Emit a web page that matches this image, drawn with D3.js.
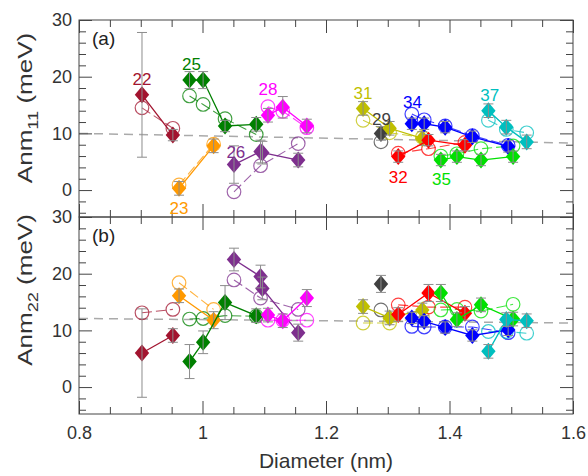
<!DOCTYPE html>
<html>
<head>
<meta charset="utf-8">
<script src="https://cdn.jsdelivr.net/npm/d3@7"></script>
<style>
    body { margin: 0; background: #fff; }
    svg { font-family: "Liberation Sans", Arial, sans-serif; }
    .axis text { fill: #333; font-size: 18px; }
    .axis line { stroke: #444; }
    .frame { fill: none; stroke: #444; stroke-width: 1; }
    .fit-line { stroke: #aaa; stroke-width: 1.5; stroke-dasharray: 9,6; fill: none; }
    .err { stroke: #8c8c8c; stroke-width: 1; }
</style>
</head>
<body>
<svg id="chart" width="588" height="476"></svg>
<script>
// Chirality families (2n+m) and the tube diameters (nm) inside each family.
const families = [22, 23, 25, 26, 28, 29, 31, 32, 34, 35, 37];
const diameters = [
    [0.902, 0.952],
    [0.962, 1.018],
    [0.979, 1.001, 1.0365, 1.087],
    [1.051, 1.094, 1.097, 1.155],
    [1.106, 1.130, 1.169],
    [1.289],
    [1.260, 1.303, 1.356],
    [1.317, 1.366, 1.425],
    [1.339, 1.359, 1.393, 1.437, 1.495],
    [1.386, 1.412, 1.451, 1.503],
    [1.463, 1.492, 1.525]
];

// Panel (a): Anm11, measured (diamonds), error, calculated (circles).
const anm11Exp = [
    [16.8, 9.7], [0.3, 7.8], [19.4, 19.4, 11.3, 11.6], [4.5, 6.8, 6.6, 5.3],
    [13.2, 14.6, 11.3], [10.0], [14.4, 10.9, 9.1], [5.9, 8.8, 7.9],
    [11.7, 11.7, 11.1, 9.4, 7.7], [5.3, 5.9, 5.3, 5.9], [14.0, 11.1, 8.5]
];
const anm11Err = [
    [11, 1.0], [1.2, 1.2], [1.5, 1.5, 1.0, 1.2], [3.3, 2.0, 2.0, 1.2],
    [1.2, 1.9, 1.2], [1.2], [1.2, 1.2, 1.2], [1.0, 1.0, 1.0],
    [1.0, 1.0, 1.0, 1.0, 1.0], [1.0, 1.0, 1.0, 1.0], [1.2, 1.2, 1.2]
];
const anm11Calc = [
    [14.5, 10.9], [0.9, 8.1], [16.6, 15.1, 12.6, 9.8], [-0.3, 4.3, null, 8.2],
    [14.7, 13.9, 11.0], [8.5], [12.3, 10.1, 9.3], [6.5, 7.3, 8.4],
    [13.4, 12.4, 11.3, 9.6, 7.9], [6.0, 6.4, 7.3, 7.8], [12.3, 10.7, 10.1]
];

// Panel (b): Anm22.
const anm22Exp = [
    [6.0, 9.1], [16.1, 11.8], [4.5, 7.9, 14.9, 12.6], [22.5, 19.5, 17.4, 9.6],
    [12.7, 11.7, 15.7], [18.2], [14.2, 12.2, 13.6], [12.8, 16.6, 13.0],
    [12.2, 11.6, 10.5, 9.1, 10.1], [16.6, 11.9, 14.5, 12.0], [6.3, 11.9, 11.7]
];
const anm22Err = [
    [7.8, 1.2], [1.2, 1.5], [3.0, 2.0, 3.0, 1.2], [2.0, 2.0, 2.0, 1.5],
    [1.2, 1.2, 1.5], [1.5], [1.2, 1.2, 1.2], [1.2, 1.5, 1.2],
    [1.0, 1.0, 1.0, 1.0, 1.0], [1.5, 1.2, 1.2, 1.2], [1.2, 1.2, 1.2]
];
const anm22Calc = [
    [13.1, 13.7], [18.4, 13.7], [12.0, 12.1, 12.6, 12.5], [18.9, 15.7, null, 13.7],
    [11.8, 11.8, 11.8], [13.6], [11.3, 11.3, 12.4], [14.5, 14.1, 14.1],
    [10.7, 10.6, 10.6, 10.6, 9.6], [13.6, 13.7, 13.4, 14.6], [9.8, 9.8, 9.5]
];

// Family number labels in panel (a), in data units.
const labelDiam = [0.902, 0.962, 0.982, 1.054, 1.106, 1.290, 1.260, 1.317, 1.340, 1.387, 1.465];
const labelAnm = [19.5, -3.2, 22.1, 6.7, 17.7, 12.5, 17.0, 2.3, 15.4, 1.8, 16.7];

// Linear fits (dashed), value at 0.8 nm and at 1.6 nm.
const fit11 = [10.0, 8.3];
const fit22 = [12.1, 11.3];

const xTicks = [0.8, 1, 1.2, 1.4, 1.6];
const yTicks = [0, 10, 20, 30];

const colors = ["#A2142F", "#FF9900", "#008000", "#7E2F8E", "#FF00FF", "#404040",
                "#BFBF00", "#FF0000", "#0000FF", "#00E000", "#00BFBF"];

const svg = d3.select("#chart");
const left = 79, right = 573;

const x = d3.scaleLinear().domain([0.8, 1.6]).range([left, right]);
const xMinor = d3.range(0.8, 1.6001, 0.05).filter(v => !xTicks.some(t => Math.abs(t - v) < 1e-6));
const yMinor = d3.range(-4, 30, 2).filter(v => v % 10 !== 0);

const panels = [
    { top: 20, bottom: 217, exp: anm11Exp, err: anm11Err, calc: anm11Calc, fit: fit11, tag: "(a)", sub: "11", labelY: 108, xLabels: false },
    { top: 217, bottom: 414, exp: anm22Exp, err: anm22Err, calc: anm22Calc, fit: fit22, tag: "(b)", sub: "22", labelY: 290, xLabels: true }
];

const diamond = "M0,-8.5L7.2,0L0,8.5L-7.2,0Z";

panels.forEach(p => {
    const y = d3.scaleLinear().domain([-4.75, 30]).range([p.bottom, p.top]);
    const g = svg.append("g");

    // Dashed linear fit.
    g.append("line")
        .attr("class", "fit-line")
        .attr("x1", x(0.8)).attr("x2", x(1.6))
        .attr("y1", y(p.fit[0])).attr("y2", y(p.fit[1]));

    const line = d3.line().x(d => x(d[0])).y(d => y(d[1]));

    // Calculated values: open circles, dashed connectors.
    families.forEach((f, i) => {
        const pts = diameters[i].map((d, j) => [d, p.calc[i][j]]).filter(d => d[1] !== null);
        g.append("path")
            .datum(pts)
            .attr("d", line)
            .attr("fill", "none")
            .attr("stroke", colors[i])
            .attr("stroke-opacity", 0.75)
            .attr("stroke-width", 1.1)
            .attr("stroke-dasharray", "10,4");
        g.selectAll(null)
            .data(pts)
            .join("circle")
            .attr("cx", d => x(d[0]))
            .attr("cy", d => y(d[1]))
            .attr("r", 6.8)
            .attr("fill", "none")
            .attr("stroke", colors[i])
            .attr("stroke-opacity", 0.75)
            .attr("stroke-width", 1.2);
    });

    // Measured values: filled diamonds with solid connectors and error bars.
    families.forEach((f, i) => {
        const pts = diameters[i].map((d, j) => [d, p.exp[i][j], p.err[i][j]]);
        g.append("path")
            .datum(pts)
            .attr("d", line)
            .attr("fill", "none")
            .attr("stroke", colors[i])
            .attr("stroke-width", 1.3);
        g.selectAll(null)
            .data(pts)
            .join("path")
            .attr("d", diamond)
            .attr("transform", d => `translate(${x(d[0])},${y(d[1])})`)
            .attr("fill", colors[i]);
        const eb = g.selectAll(null).data(pts).join("g").attr("class", "err");
        eb.append("line")
            .attr("x1", d => x(d[0])).attr("x2", d => x(d[0]))
            .attr("y1", d => y(d[1] - d[2])).attr("y2", d => y(d[1] + d[2]));
        eb.append("line")
            .attr("x1", d => x(d[0]) - 5).attr("x2", d => x(d[0]) + 5)
            .attr("y1", d => y(d[1] - d[2])).attr("y2", d => y(d[1] - d[2]));
        eb.append("line")
            .attr("x1", d => x(d[0]) - 5).attr("x2", d => x(d[0]) + 5)
            .attr("y1", d => y(d[1] + d[2])).attr("y2", d => y(d[1] + d[2]));
    });

    // Axes: major and minor ticks, pointing inward on all four sides.
    const addAxis = (axis, tx, ty) => {
        const a = svg.append("g").attr("class", "axis")
            .attr("transform", `translate(${tx},${ty})`)
            .call(axis);
        a.select(".domain").remove();
        return a;
    };
    addAxis(d3.axisBottom(x).tickValues(xTicks).tickSizeInner(-13).tickSizeOuter(0).tickPadding(12)
        .tickFormat(p.xLabels ? d3.format("") : () => ""), 0, p.bottom);
    addAxis(d3.axisBottom(x).tickValues(xMinor).tickSizeInner(-7).tickSizeOuter(0).tickFormat(""), 0, p.bottom);
    addAxis(d3.axisTop(x).tickValues(xTicks).tickSizeInner(-13).tickSizeOuter(0).tickFormat(""), 0, p.top);
    addAxis(d3.axisTop(x).tickValues(xMinor).tickSizeInner(-7).tickSizeOuter(0).tickFormat(""), 0, p.top);
    addAxis(d3.axisLeft(y).tickValues(yTicks).tickSizeInner(-13).tickSizeOuter(0).tickPadding(7), left, 0);
    addAxis(d3.axisLeft(y).tickValues(yMinor).tickSizeInner(-7).tickSizeOuter(0).tickFormat(""), left, 0);
    addAxis(d3.axisRight(y).tickValues(yTicks).tickSizeInner(-13).tickSizeOuter(0).tickFormat(""), right, 0);
    addAxis(d3.axisRight(y).tickValues(yMinor).tickSizeInner(-7).tickSizeOuter(0).tickFormat(""), right, 0);

    svg.append("rect")
        .attr("class", "frame")
        .attr("x", left).attr("y", p.top)
        .attr("width", right - left).attr("height", p.bottom - p.top);

    // Panel tag.
    svg.append("text")
        .attr("x", left + 13).attr("y", p.top + 25)
        .attr("fill", "#222")
        .style("font-size", "19px")
        .text(p.tag);

    // Y axis title with subscript, stretched along its length like the original.
    const t = svg.append("text")
        .attr("transform", `translate(32,${p.labelY}) rotate(-90) scale(1.3,1)`)
        .attr("text-anchor", "middle")
        .attr("fill", "#333")
        .style("font-size", "20px");
    t.append("tspan").text("Anm");
    t.append("tspan").attr("dy", 6).style("font-size", "14px").text(p.sub);
    t.append("tspan").attr("dy", -6).text(" (meV)");
});

// Family labels in panel (a).
const yA = d3.scaleLinear().domain([-4.75, 30]).range([217, 20]);
svg.append("g").selectAll("text")
    .data(families)
    .join("text")
    .attr("x", (d, i) => x(labelDiam[i]))
    .attr("y", (d, i) => yA(labelAnm[i]))
    .attr("text-anchor", "middle")
    .attr("dominant-baseline", "central")
    .attr("fill", (d, i) => colors[i])
    .style("font-size", "17px")
    .text(d => d);

// X axis title.
svg.append("text")
    .attr("x", (left + right) / 2)
    .attr("y", 468)
    .attr("text-anchor", "middle")
    .attr("fill", "#333")
    .style("font-size", "21px")
    .text("Diameter (nm)");
</script>
</body>
</html>
